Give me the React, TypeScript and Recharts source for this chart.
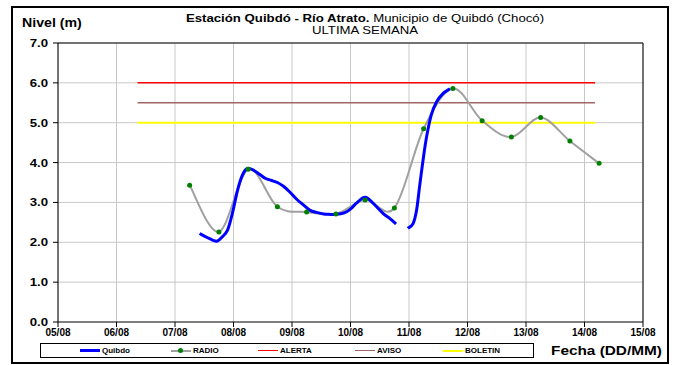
import React from "react";
import {
  LineChart,
  Line,
  XAxis,
  YAxis,
  CartesianGrid,
  ReferenceLine,
} from "recharts";

// days since 05/08 00:00
const dayLabels = ["05/08", "06/08", "07/08", "08/08", "09/08", "10/08", "11/08", "12/08", "13/08", "14/08", "15/08"];
const dayTicks = [0, 1, 2, 3, 4, 5, 6, 7, 8, 9, 10];
const levelTicks = [0, 1, 2, 3, 4, 5, 6, 7];
const gridLevels = [0.5, 1, 1.5, 2, 2.5, 3, 3.5, 4, 4.5, 5, 5.5, 6, 6.5, 7];

const radioTimes = [2.25, 2.75, 3.25, 3.75, 4.25, 4.75, 5.25, 5.75, 6.25, 6.75, 7.25, 7.75, 8.25, 8.75, 9.25];
const radioValues = [3.43, 2.26, 3.83, 2.89, 2.76, 2.71, 3.06, 2.86, 4.85, 5.86, 5.05, 4.64, 5.13, 4.54, 3.98];

const quibdoTimes = [
  2.42, 2.55, 2.65, 2.72, 2.81, 2.9, 2.98, 3.07, 3.15, 3.23, 3.34, 3.45, 3.55, 3.65, 3.75, 3.86, 3.97,
  4.08, 4.2, 4.31, 4.42, 4.54, 4.65, 4.76, 4.88, 4.99, 5.1, 5.22, 5.3, 5.42, 5.56, 5.67, 5.78, 5.88,
  5.98, 6.07, 6.13, 6.18, 6.24, 6.3, 6.38, 6.47, 6.58, 6.7,
];
const quibdoValues = [
  2.22, 2.12, 2.05, 2.03, 2.14, 2.31, 2.72, 3.31, 3.68, 3.85, 3.81, 3.7, 3.6, 3.55, 3.5, 3.4, 3.25,
  3.08, 2.93, 2.8, 2.75, 2.71, 2.7, 2.7, 2.73, 2.82, 2.98, 3.12, 3.1, 2.93, 2.72, 2.6, 2.46, null,
  2.35, 2.47, 2.81, 3.39, 4.06, 4.64, 5.19, 5.52, 5.73, 5.85,
];

const thresholdSpan = [1.36, 9.18];
const alertaLevel = 6.0;
const avisoLevel = 5.5;
const boletinLevel = 5.0;

const radioData = radioTimes.map((t, i) => ({ t, v: radioValues[i] }));
const quibdoData = quibdoTimes.map((t, i) => ({ t, v: quibdoValues[i] }));
const lineData = (level: number) => thresholdSpan.map((t) => ({ t, v: level }));

// Excel-like smoothed line (Catmull-Rom through the points)
const smooth = (context: any) => {
  let pts: number[][] = [];
  const flush = () => {
    if (!pts.length) return;
    context.moveTo(pts[0][0], pts[0][1]);
    for (let i = 0; i < pts.length - 1; i++) {
      const p0 = pts[Math.max(0, i - 1)];
      const p1 = pts[i];
      const p2 = pts[i + 1];
      const p3 = pts[Math.min(pts.length - 1, i + 2)];
      context.bezierCurveTo(
        p1[0] + (p2[0] - p0[0]) / 6,
        p1[1] + (p2[1] - p0[1]) / 6,
        p2[0] - (p3[0] - p1[0]) / 6,
        p2[1] - (p3[1] - p1[1]) / 6,
        p2[0],
        p2[1]
      );
    }
    pts = [];
  };
  return {
    areaStart() {},
    areaEnd() {},
    lineStart() {
      pts = [];
    },
    lineEnd() {
      flush();
    },
    point(x: number, y: number) {
      pts.push([+x, +y]);
    },
  };
};

const font = "'Liberation Sans', Arial, sans-serif";

// the original image is stretched a little in width
const wide = (s: number) => ({ transform: `scaleX(${s})`, transformOrigin: "left center" });

function LevelTick({ x, y, payload }: any) {
  return (
    <text
      x={x}
      y={y}
      dy={4}
      textAnchor="end"
      fontSize={11}
      fontWeight={700}
      fill="#000"
      fontFamily={font}
      transform={`translate(${x},0) scale(1.2,1) translate(${-x},0)`}
    >
      {Number(payload.value).toFixed(1)}
    </text>
  );
}

const legendItems = [
  { name: "Quibdo", color: "#0000ff", left: 79, dot: false, width: 3 },
  { name: "RADIO", color: "#a0a0a0", left: 170, dot: true, width: 2 },
  { name: "ALERTA", color: "#ff0000", left: 257, dot: false, width: 1.5 },
  { name: "AVISO", color: "#a06666", left: 354, dot: false, width: 1.5 },
  { name: "BOLETIN", color: "#ffff00", left: 442, dot: false, width: 2 },
];

export default function App() {
  return (
    <div
      style={{
        position: "absolute",
        left: 0,
        top: 0,
        width: 674,
        height: 365,
        background: "#fff",
        fontFamily: font,
      }}
    >
      <LineChart
        width={674}
        height={365}
        margin={{ top: 43, right: 31, bottom: 23, left: 0 }}
      >
        <CartesianGrid
          stroke="#c8c8c8"
          strokeWidth={1}
          horizontalValues={gridLevels}
          verticalValues={dayTicks}
        />
        <XAxis
          type="number"
          dataKey="t"
          domain={[0, 10]}
          ticks={dayTicks}
          tickFormatter={(v) => dayLabels[v]}
          height={20}
          stroke="#000"
          tickSize={5}
          tickMargin={2}
          tick={{ fontSize: 10, fontWeight: 700, fill: "#000", fontFamily: font }}
          allowDuplicatedCategory={false}
        />
        <YAxis
          type="number"
          dataKey="v"
          domain={[0, 7]}
          ticks={levelTicks}
          width={58}
          stroke="#000"
          tickSize={5}
          tickMargin={5}
          tick={<LevelTick />}
        />
        <ReferenceLine y={7} stroke="#000" />
        <ReferenceLine x={10} stroke="#000" />
        <Line data={lineData(alertaLevel)} dataKey="v" stroke="#ff0000" strokeWidth={1.5} dot={false} isAnimationActive={false} />
        <Line data={lineData(avisoLevel)} dataKey="v" stroke="#a06666" strokeWidth={1.5} dot={false} isAnimationActive={false} />
        <Line data={lineData(boletinLevel)} dataKey="v" stroke="#ffff00" strokeWidth={2} dot={false} isAnimationActive={false} />
        <Line
          data={radioData}
          dataKey="v"
          type={smooth as any}
          stroke="#a0a0a0"
          strokeWidth={2}
          dot={{ r: 2.5, fill: "#008000", stroke: "none" }}
          isAnimationActive={false}
        />
        <Line
          data={quibdoData}
          dataKey="v"
          type={smooth as any}
          stroke="#0000ff"
          strokeWidth={3}
          dot={false}
          connectNulls={false}
          isAnimationActive={false}
        />
      </LineChart>

      {/* outer frame */}
      <div
        style={{
          position: "absolute",
          left: 11,
          top: 6,
          width: 654,
          height: 354,
          border: "2px solid #000",
          pointerEvents: "none",
        }}
      />

      <div style={{ position: "absolute", left: 22, top: 16, fontSize: 12, fontWeight: 700, ...wide(1.18) }}>
        Nivel (m)
      </div>

      <div
        style={{
          position: "absolute",
          left: 0,
          width: 730,
          top: 12,
          textAlign: "center",
          fontSize: 11,
          lineHeight: "12px",
          transform: "scaleX(1.2)",
          transformOrigin: "365px 0",
        }}
      >
        <span style={{ fontWeight: 700 }}>Estación Quibdó - Río Atrato.</span> Municipio de Quibdó (Chocó)
        <br />
        ULTIMA SEMANA
      </div>

      {/* legend */}
      <div
        style={{
          position: "absolute",
          left: 40,
          top: 343,
          width: 492,
          height: 13,
          border: "1px solid #000",
        }}
      >
        {legendItems.map((it) => (
          <div
            key={it.name}
            style={{
              position: "absolute",
              left: it.left - 40,
              top: 0,
              height: 13,
              display: "flex",
              alignItems: "center",
              fontSize: 8,
              fontWeight: 700,
            }}
          >
            <span
              style={{
                position: "relative",
                display: "inline-block",
                width: 20,
                height: it.width,
                background: it.color,
                marginRight: 2,
              }}
            >
              {it.dot && (
                <span
                  style={{
                    position: "absolute",
                    left: 7,
                    top: -2,
                    width: 5,
                    height: 5,
                    borderRadius: 3,
                    background: "#008000",
                  }}
                />
              )}
            </span>
            {it.name}
          </div>
        ))}
      </div>

      <div style={{ position: "absolute", left: 551, top: 344, fontSize: 12, fontWeight: 700, ...wide(1.28) }}>
        Fecha (DD/MM)
      </div>
    </div>
  );
}
